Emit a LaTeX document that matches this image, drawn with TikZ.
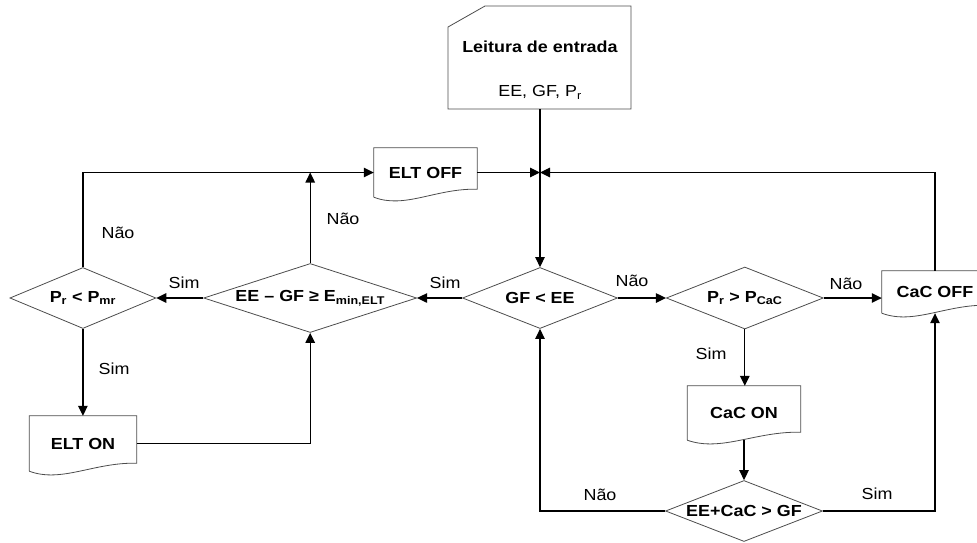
\documentclass[tikz,border=0pt]{standalone}
\usepackage{fontspec}
\setmainfont{Liberation Sans}[FakeStretch=1.12]
\usetikzlibrary{arrows.meta,calc,positioning,shapes.geometric}

% wavy bottom of a document box
\newcommand{\docline}[1]{%
  \draw[shapeline] (#1.south west) -- (#1.north west) -- (#1.north east) -- ($(#1.south east)+(0,-8)$)
    .. controls ($(#1.south west)!0.6!(#1.south east)+(0,-9)$) and ($(#1.south west)!0.3!(#1.south east)+(0,12)$) .. (#1.south west);}

\begin{document}
\begin{tikzpicture}[x=1pt,y=-1pt,>={Triangle[length=10pt,width=9.5pt]},
  every node/.style={font=\fontsize{16}{19}\selectfont},
  shapeline/.style={draw=black!70,line width=0.8pt},
  dec/.style={diamond,shapeline,inner sep=0pt,font=\fontsize{16}{19}\selectfont\bfseries},
  doc/.style={inner sep=0pt,font=\fontsize{16}{19}\selectfont\bfseries},
  link/.style={->,line width=1.2pt}]
\useasboundingbox (0,0) rectangle (977,542);

% entrada
\node[align=center] (in) at (540,70) {\textbf{Leitura de entrada}\\[25pt]EE, GF, P\textsubscript{r}};
\draw[shapeline] (448,27) -- (485,6) -- (631,6) -- (631,109) -- (448,109) -- cycle;
\coordinate (inbot) at (540,109);

% decisoes
\node[dec,aspect=2.5,minimum width=155,minimum height=61] (gfee) at (540,298) {GF < EE};
\node[dec,aspect=3.1,minimum width=213,minimum height=69,left=45pt of gfee] (eegf) {EE – GF ≥ E\textsubscript{min,ELT}};
\node[dec,aspect=2.4,minimum width=146,minimum height=61,left=47pt of eegf] (prpmr) {P\textsubscript{r} < P\textsubscript{mr}};
\node[dec,aspect=2.5,minimum width=157,minimum height=62,right=48pt of gfee] (prpcac) {P\textsubscript{r} > P\textsubscript{CaC}};
\node[dec,aspect=2.6,minimum width=157,minimum height=61] (eecac) at (744,511) {EE+CaC > GF};

% documentos
\node[doc,minimum width=103,minimum height=49] (eltoff) at (425.5,172.5) {ELT OFF};
\node[doc,minimum width=107,minimum height=55] (elton) at (83,443.5) {ELT ON};
\node[doc,minimum width=113,minimum height=54] (cacon) at (744,413) {CaC ON};
\node[doc,minimum width=106,minimum height=42] (cacoff) at (935,292) {CaC OFF};
\docline{eltoff}
\docline{elton}
\docline{cacon}
\docline{cacoff}

\coordinate (j) at (inbot |- eltoff.east);

\draw[link] (inbot) -- (gfee.north);
\draw[link] (gfee.west) -- (eegf.east);
\draw[link] (eegf.west) -- (prpmr.east);
\draw[link] (prpmr.south) -- (prpmr.south |- elton.north);
\draw[link] (prpmr.north) |- (eltoff.west);
\draw[link] (eegf.north) -- (eegf.north |- eltoff.west);
\draw[link] (eltoff.east) -- (j);
\draw[link] (cacoff.north) |- (j);
\draw[link] (gfee.east) -- (prpcac.west);
\draw[link] (prpcac.east) -- (prpcac.east -| cacoff.west);
\draw[link] (prpcac.south) -- (prpcac.south |- cacon.north);
\draw[link] (cacon.south) -- (eecac.north);
\draw[link] (eecac.west) -| (gfee.south);
\draw[link] (eecac.east) -| (cacoff.south);
\draw[link] (elton.east) -| (eegf.south);

% rotulos
\node (nao1) at (118,233) {Não};
\node (nao2) at (343,219) {Não};
\node (sim1) at (184,283) {Sim};
\node (sim2) at (445,283) {Sim};
\node (sim3) at (114,369) {Sim};
\node (nao3) at (632,281) {Não};
\node (nao4) at (846,284) {Não};
\node (sim4) at (711,354) {Sim};
\node (nao5) at (600,495) {Não};
\node (sim5) at (877,494) {Sim};
\end{tikzpicture}
\end{document}
